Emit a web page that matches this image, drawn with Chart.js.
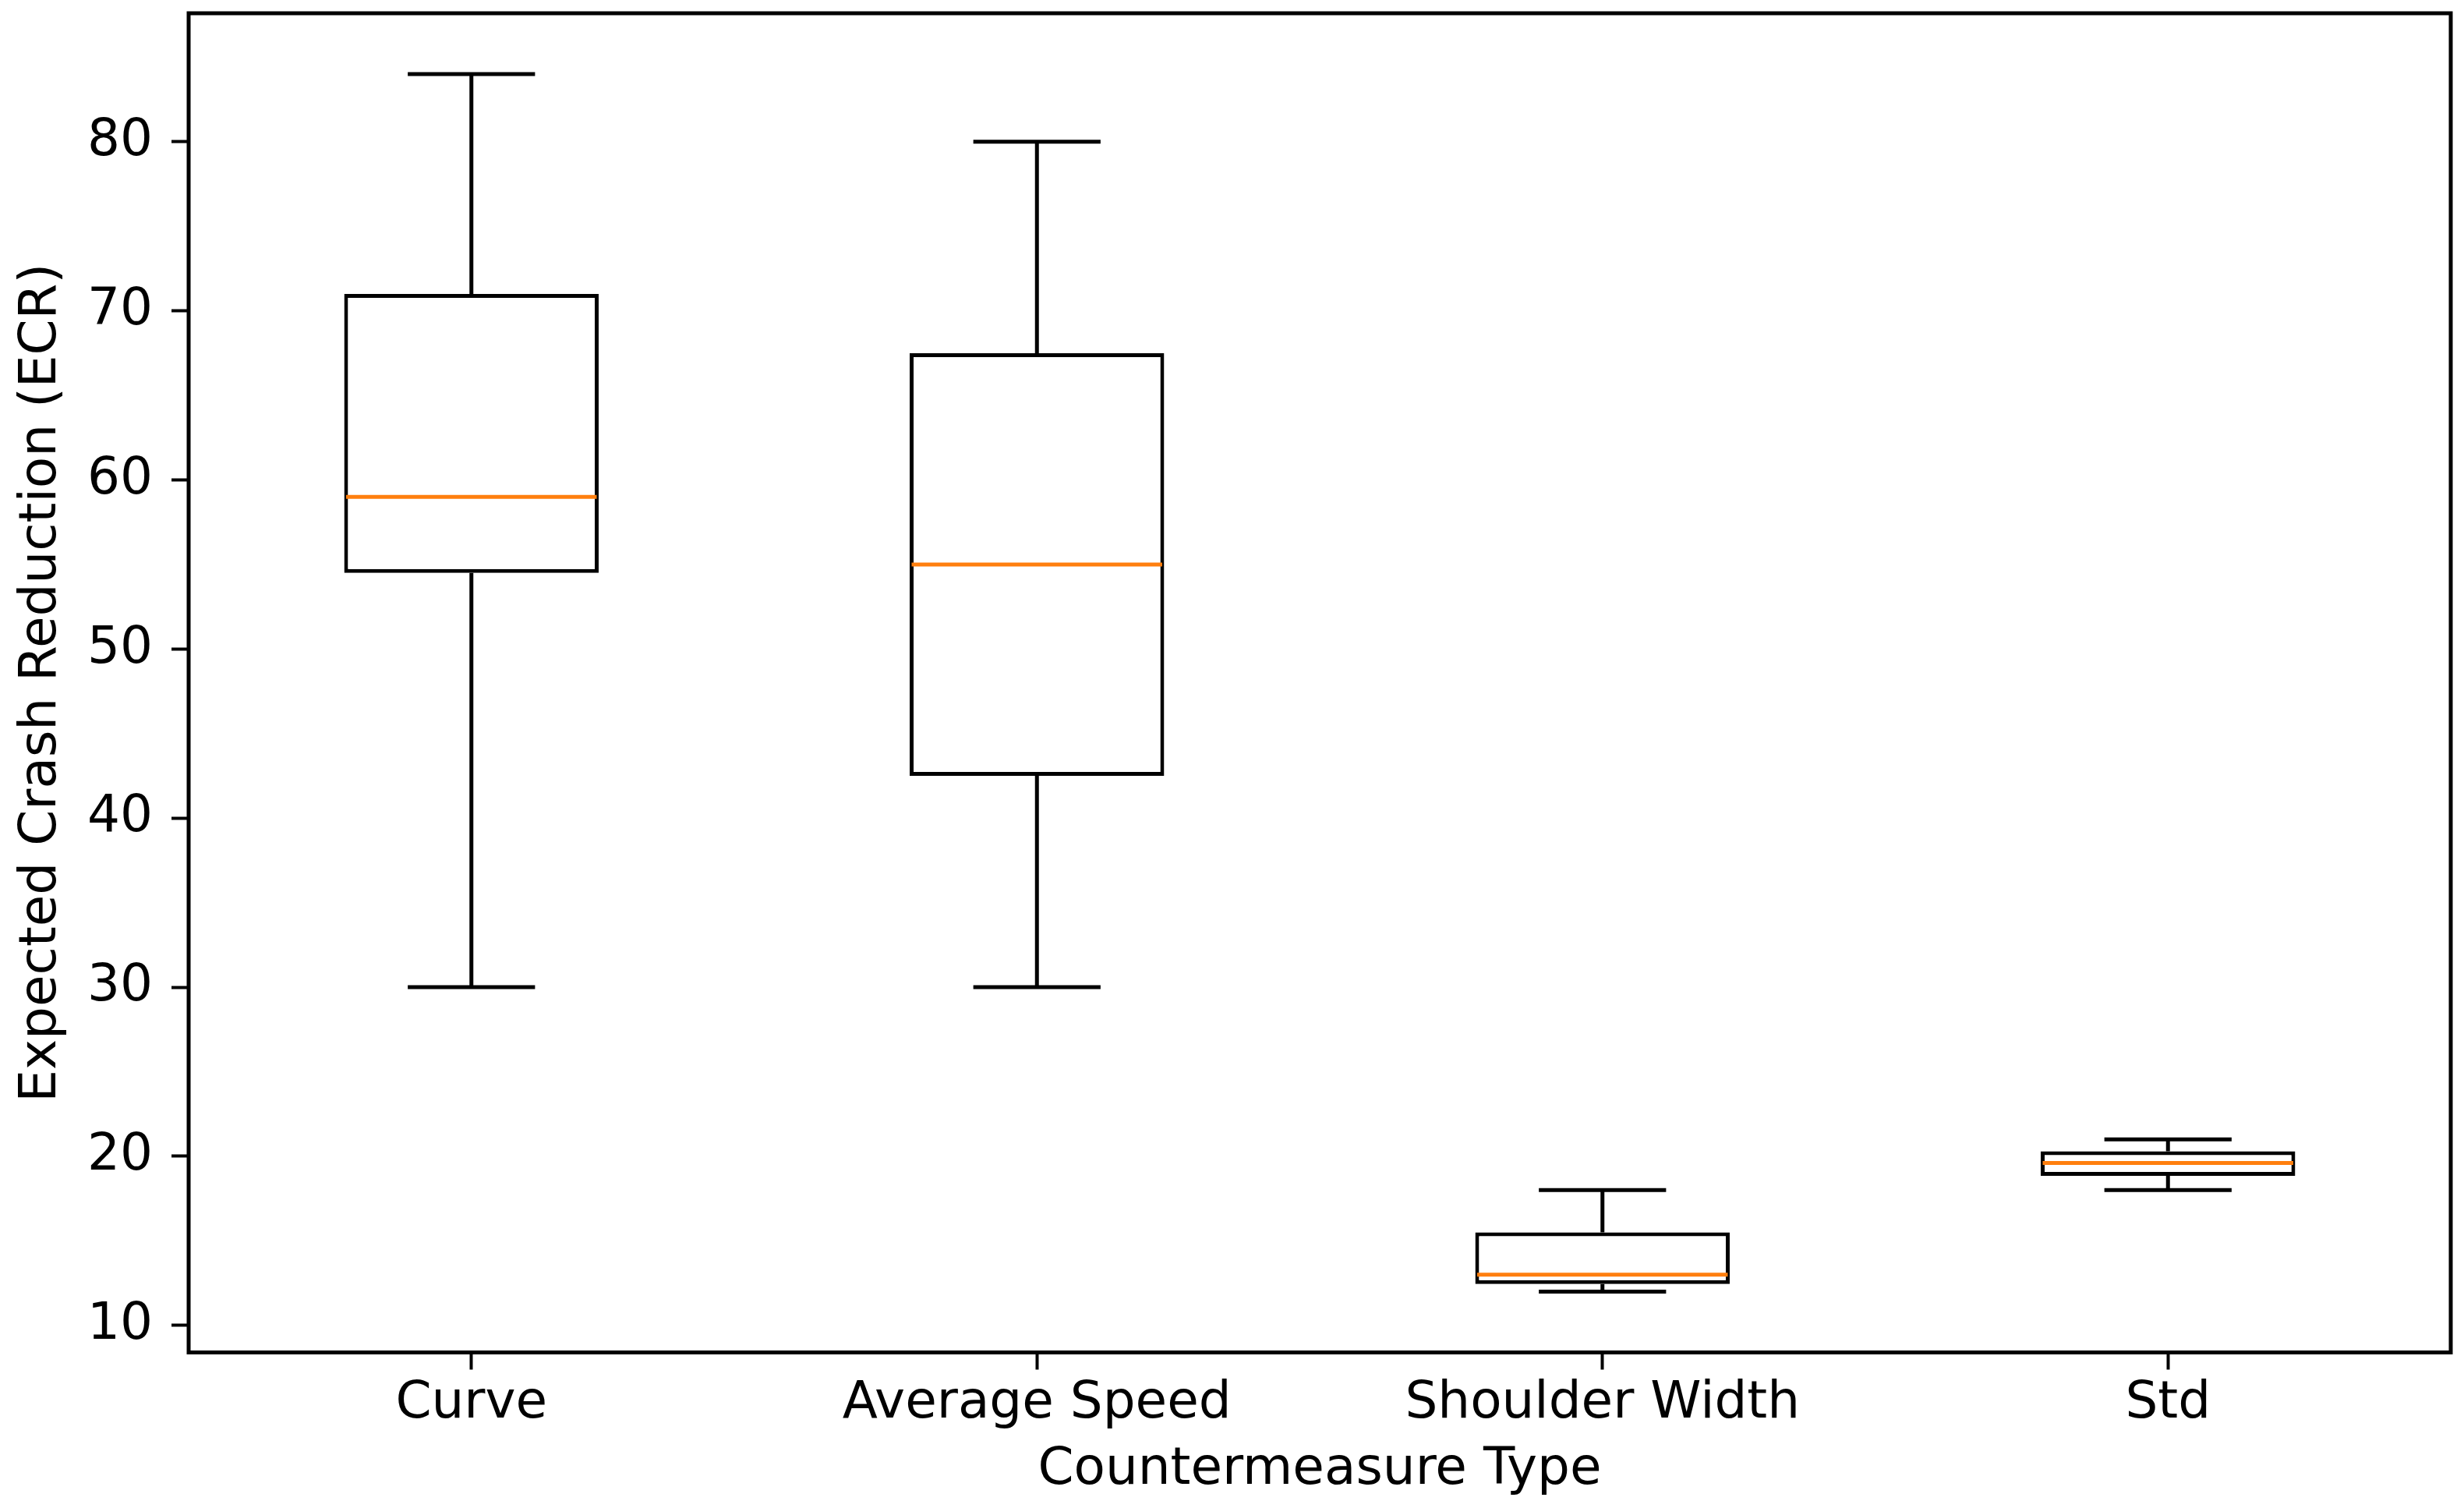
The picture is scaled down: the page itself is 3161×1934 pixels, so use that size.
<!DOCTYPE html>
<html>
<head>
<meta charset="utf-8">
<script src="https://cdn.jsdelivr.net/npm/chart.js@4/dist/chart.umd.min.js"></script>
<style>
  html, body { margin: 0; padding: 0; background: #fff; }
  #wrap { width: 3161px; height: 1934px; }
</style>
</head>
<body>
<div id="wrap"><canvas id="boxChart" width="3161" height="1934"></canvas></div>
<script>
"use strict";

// box plot summary per countermeasure
const categories = ['Curve', 'Average Speed', 'Shoulder Width', 'Std'];
const whiskerLow = [30, 30, 12, 18];
const quartile1 = [54.5, 42.5, 12.45, 18.85];
const medians = [59, 55, 13, 19.6];
const quartile3 = [71, 67.5, 15.5, 20.3];
const whiskerHigh = [84, 80, 18, 21];
const yTicks = [10, 20, 30, 40, 50, 60, 70, 80];

const FONT = { family: "'DejaVu Sans', sans-serif", size: 66 };
const LINE = 5;

// whiskers, caps and medians, placed with the chart's own scales
const boxExtras = {
  id: 'boxExtras',
  afterDatasetsDraw(chart) {
    const ctx = chart.ctx;
    const x = chart.scales.x;
    const y = chart.scales.y;
    const meta = chart.getDatasetMeta(0);
    ctx.save();
    ctx.lineCap = 'butt';
    categories.forEach((cat, i) => {
      const cx = x.getPixelForValue(i);
      const half = meta.data[i].width / 2;
      const capHalf = half / 2;

      ctx.strokeStyle = '#000';
      ctx.lineWidth = LINE;
      ctx.beginPath();
      ctx.moveTo(cx, y.getPixelForValue(quartile3[i]));
      ctx.lineTo(cx, y.getPixelForValue(whiskerHigh[i]));
      ctx.moveTo(cx, y.getPixelForValue(quartile1[i]));
      ctx.lineTo(cx, y.getPixelForValue(whiskerLow[i]));
      ctx.moveTo(cx - capHalf, y.getPixelForValue(whiskerHigh[i]));
      ctx.lineTo(cx + capHalf, y.getPixelForValue(whiskerHigh[i]));
      ctx.moveTo(cx - capHalf, y.getPixelForValue(whiskerLow[i]));
      ctx.lineTo(cx + capHalf, y.getPixelForValue(whiskerLow[i]));
      ctx.stroke();

      ctx.strokeStyle = '#ff7f0e';
      ctx.beginPath();
      ctx.moveTo(cx - half + LINE / 2, y.getPixelForValue(medians[i]));
      ctx.lineTo(cx + half - LINE / 2, y.getPixelForValue(medians[i]));
      ctx.stroke();
    });
    ctx.restore();
  },
  afterDraw(chart) {
    const a = chart.chartArea;
    const ctx = chart.ctx;
    ctx.save();
    ctx.strokeStyle = '#000';
    ctx.lineWidth = LINE;
    ctx.strokeRect(a.left, a.top, a.right - a.left, a.bottom - a.top);
    ctx.restore();
  }
};

const data = {
  labels: categories,
  datasets: [{
    data: quartile1.map((v, i) => [v, quartile3[i]]),
    backgroundColor: '#ffffff',
    borderColor: '#000000',
    borderWidth: LINE,
    borderSkipped: false,
    barPercentage: 0.45,
    categoryPercentage: 1.0
  }]
};

const config = {
  type: 'bar',
  data,
  options: {
    responsive: false,
    devicePixelRatio: 1,
    animation: false,
    layout: { padding: { top: 17, right: 17, bottom: 0, left: 0 } },
    plugins: {
      legend: { display: false },
      tooltip: { enabled: false }
    },
    scales: {
      x: {
        type: 'category',
        offset: true,
        border: { display: false },
        grid: {
          offset: false,
          drawOnChartArea: false,
          drawTicks: true,
          tickLength: 22,
          tickWidth: 4,
          tickColor: '#000'
        },
        ticks: { color: '#000', font: FONT, padding: 5, maxRotation: 0 },
        title: {
          display: true,
          text: 'Countermeasure Type',
          color: '#000',
          font: FONT,
          padding: { top: 0, bottom: 9 }
        },
        afterFit(scale) {
          scale.height = 199.5;
          scale.paddingLeft = 0;
          scale.paddingRight = 0;
        }
      },
      y: {
        type: 'linear',
        min: 8.4,
        max: 87.6,
        border: { display: false },
        grid: {
          drawOnChartArea: false,
          drawTicks: true,
          tickLength: 22,
          tickWidth: 4,
          tickColor: '#000'
        },
        ticks: { color: '#000', font: FONT, padding: 24 },
        afterBuildTicks(axis) {
          axis.ticks = yTicks.map(v => ({ value: v }));
        },
        title: {
          display: true,
          text: 'Expected Crash Reduction (ECR)',
          color: '#000',
          font: FONT,
          padding: { top: 14, bottom: 0 }
        },
        afterFit(scale) {
          scale.width = 242;
          scale.paddingTop = 0;
          scale.paddingBottom = 0;
        }
      }
    }
  },
  plugins: [boxExtras]
};

const boxChart = new Chart(document.getElementById('boxChart'), config);
</script>
</body>
</html>
